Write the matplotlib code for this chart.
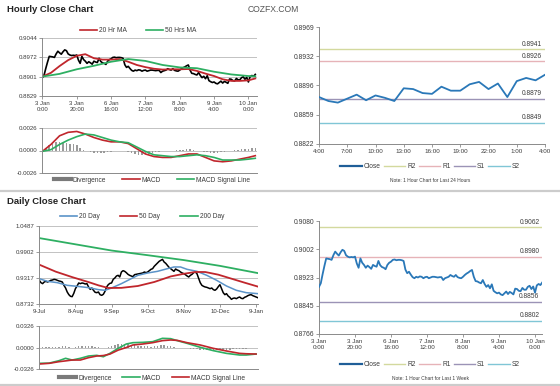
import numpy as np
import matplotlib.pyplot as plt
from matplotlib.lines import Line2D

plt.rcParams['font.family'] = ['Liberation Sans', 'DejaVu Sans']

W, H = 560, 386

# ---------------- hourly data: 3 Jan 0:00 .. 10 Jan 4:00 (one value per hour)
hour_labels = ["3 Jan\n0:00", "3 Jan\n20:00", "6 Jan\n16:00", "7 Jan\n12:00",
               "8 Jan\n8:00", "9 Jan\n4:00", "10 Jan\n0:00"]
close_3to9 = [
    0.8897, 0.8907, 0.8932, 0.8955, 0.8976, 0.8975, 0.8974, 0.8972, 0.8985, 0.8995,
    0.8989, 0.8984, 0.8993, 0.9000, 0.8997, 0.8985, 0.8981, 0.8979, 0.8980, 0.8979,
    0.8981, 0.8962, 0.8950, 0.8976, 0.8964, 0.8958, 0.8950, 0.8956, 0.8952, 0.8947,
    0.8958, 0.8955, 0.8953, 0.8969, 0.8957, 0.8952, 0.8950, 0.8946, 0.8958, 0.8964,
    0.8967, 0.8972, 0.8973, 0.8971, 0.8972, 0.8972, 0.8971, 0.8969, 0.8945, 0.8935,
    0.8939, 0.8931, 0.8924, 0.8921, 0.8925, 0.8923, 0.8926, 0.8925, 0.8921, 0.8924,
    0.8925, 0.8921, 0.8923, 0.8925, 0.8925, 0.8924, 0.8923, 0.8924, 0.8924, 0.8916,
    0.8921, 0.8923, 0.8925, 0.8930, 0.8927, 0.8925, 0.8930, 0.8924, 0.8922, 0.8921,
    0.8925, 0.8930, 0.8934, 0.8937, 0.8941, 0.8944, 0.8925, 0.8913, 0.8912, 0.8909,
    0.8907, 0.8916, 0.8905, 0.8897, 0.8902, 0.8893, 0.8904, 0.8886, 0.8882, 0.8879,
]
# last 24 hours: 9 Jan 4:00 .. 10 Jan 4:00
close_24h = [
    0.8881, 0.8876, 0.8874, 0.8879, 0.8884, 0.8877, 0.8883, 0.8880, 0.8876, 0.8892,
    0.8891, 0.8886, 0.8885, 0.8894, 0.8889, 0.8889, 0.8897, 0.8900, 0.8891, 0.8898,
    0.8881, 0.8901, 0.8905, 0.8902, 0.8909,
]
close_week = close_3to9 + close_24h
labels_24h = ["4:00", "7:00", "10:00", "13:00", "16:00", "19:00", "22:00", "1:00", "4:00"]

level_names = ["R2", "R1", "S1", "S2"]
levels_24h = [0.8941, 0.8926, 0.8879, 0.8849]
levels_week = [0.9062, 0.8980, 0.8856, 0.8802]

ma_h_x = [0, 5, 10, 15, 20, 25, 30, 35, 40, 45, 50, 55, 60, 65, 70, 75, 80, 85, 90,
          95, 100, 105, 110, 115, 120, 124]
ma20_h = [0.8901, 0.8915, 0.8940, 0.8962, 0.8978, 0.8984, 0.8969, 0.8964, 0.8964, 0.8966,
          0.8956, 0.8944, 0.8936, 0.8930, 0.8927, 0.8928, 0.8928, 0.8929, 0.8922, 0.8912,
          0.8903, 0.8891, 0.8885, 0.8885, 0.8887, 0.8894]
ma50_h_x = [0, 10, 20, 30, 40, 50, 60, 70, 80, 90, 100, 110, 120, 124]
ma50_h = [0.8901, 0.8911, 0.8928, 0.8941, 0.8956, 0.8966, 0.8959, 0.8944, 0.8935, 0.8932,
          0.8919, 0.8909, 0.8903, 0.8902]

macd_h = [-0.0001, 0.0007, 0.0017, 0.0021, 0.0022, 0.0019, 0.0015, 0.0012, 0.0010, 0.0010,
          0.0008, 0.0002, -0.0004, -0.0007, -0.0008, -0.0008, -0.0006, -0.0004, -0.0004,
          -0.0008, -0.0012, -0.0013, -0.0012, -0.0010, -0.0008, -0.0006]
signal_h = [-0.0001, 0.0001, 0.0007, 0.0012, 0.0016, 0.0019, 0.0018, 0.0015, 0.0012, 0.0010,
            0.0009, 0.0004, -0.0001, -0.0005, -0.0006, -0.0007, -0.0007, -0.0006, -0.0005,
            -0.0006, -0.0008, -0.0011, -0.0011, -0.0011, -0.0010, -0.0009]
div_h_x = list(range(0, 125, 2))
div_h = [0.0000, 0.0003, 0.0006, 0.0008, 0.0010, 0.0010, 0.0009, 0.0009, 0.0008, 0.0007,
         0.0006, 0.0003, 0.0001, -0.0001, -0.0002, -0.0003, -0.0003, -0.0003, -0.0003, -0.0002,
         -0.0002, -0.0001, 0.0000, -0.0001, -0.0001, -0.0002, -0.0003, -0.0004, -0.0005, -0.0005,
         -0.0004, -0.0004, -0.0003, -0.0002, -0.0002, -0.0001, -0.0001, 0.0000, 0.0000, 0.0001,
         0.0001, 0.0001, 0.0002, 0.0002, 0.0001, 0.0000, -0.0001, -0.0002, -0.0002, -0.0003,
         -0.0003, -0.0003, -0.0002, -0.0002, -0.0001, 0.0000, 0.0001, 0.0001, 0.0002, 0.0002,
         0.0002, 0.0003, 0.0003]

# ---------------- daily data: 9 Jul .. 9 Jan (trading days)
day_labels = ["9-Jul", "8-Aug", "9-Sep", "9-Oct", "8-Nov", "10-Dec", "9-Jan"]
close_d = [
    0.9265, 0.9212, 0.9190, 0.9227, 0.9242, 0.9227, 0.9242, 0.9265, 0.9272, 0.9287,
    0.9280, 0.9265, 0.9250, 0.9242, 0.9227, 0.9152, 0.9092, 0.9002, 0.8942, 0.8905,
    0.8897, 0.8972, 0.9077, 0.9137, 0.9205, 0.9190, 0.9205, 0.9197, 0.9182, 0.9190,
    0.9115, 0.9062, 0.9092, 0.9040, 0.8995, 0.8987, 0.9002, 0.8942, 0.8927, 0.8950,
    0.9017, 0.9115, 0.9167, 0.9197, 0.9205, 0.9287, 0.9317, 0.9362, 0.9377, 0.9340,
    0.9452, 0.9482, 0.9467, 0.9437, 0.9400, 0.9377, 0.9362, 0.9347, 0.9392, 0.9400,
    0.9407, 0.9415, 0.9422, 0.9430, 0.9452, 0.9437, 0.9452, 0.9482, 0.9512, 0.9527,
    0.9580, 0.9617, 0.9655, 0.9692, 0.9715, 0.9737, 0.9677, 0.9647, 0.9602, 0.9557,
    0.9527, 0.9497, 0.9467, 0.9520, 0.9497, 0.9482, 0.9452, 0.9430, 0.9415, 0.9392,
    0.9362, 0.9340, 0.9377, 0.9400, 0.9437, 0.9452, 0.9415, 0.9317, 0.9212, 0.9152,
    0.9130, 0.9115, 0.9107, 0.9092, 0.9077, 0.9092, 0.9055, 0.9040, 0.9070, 0.9122,
    0.9167, 0.9077, 0.8987, 0.8942, 0.8965, 0.8912, 0.8882, 0.8837, 0.8860, 0.8867,
    0.8852, 0.8875, 0.8890, 0.8860, 0.8852, 0.8882, 0.8897, 0.8920, 0.8935, 0.8942,
    0.8920, 0.8905, 0.8890, 0.8875,
]
ma20_d_x = [0, 5, 11, 17, 23, 30, 36, 40, 44, 50, 56, 60, 66, 72, 78, 82, 86, 90, 96,
            102, 108, 114, 120, 126, 133]
ma20_d = [0.9302, 0.9242, 0.9212, 0.9152, 0.9130, 0.9100, 0.9055, 0.9040, 0.9092, 0.9190,
          0.9302, 0.9377, 0.9430, 0.9467, 0.9527, 0.9565, 0.9565, 0.9512, 0.9467, 0.9377,
          0.9265, 0.9137, 0.9040, 0.8987, 0.8965]
ma50_d_x = [0, 10, 20, 30, 36, 42, 50, 60, 70, 80, 88, 95, 101, 109, 117, 125, 133]
ma50_d = [0.9617, 0.9460, 0.9337, 0.9225, 0.9152, 0.9092, 0.9095, 0.9137, 0.9227, 0.9352,
          0.9412, 0.9452, 0.9452, 0.9392, 0.9302, 0.9212, 0.9125]
ma200_d_x = [0, 22, 44, 66, 88, 110, 133]
ma200_d = [1.0215, 1.0075, 0.9935, 0.9830, 0.9720, 0.9590, 0.9428]

macd_d_x = [0, 6, 12, 16, 20, 25, 30, 35, 39, 43, 48, 53, 57, 63, 69, 75, 80, 84, 90,
            98, 106, 114, 122, 126, 132]
macd_d = [-0.0240, -0.0237, -0.0200, -0.0164, -0.0190, -0.0164, -0.0129, -0.0119, -0.0140,
          -0.0089, -0.0013, 0.0053, 0.0073, 0.0078, 0.0088, 0.0139, 0.0134, 0.0104, 0.0063,
          0.0003, -0.0048, -0.0089, -0.0114, -0.0114, -0.0099]
signal_d = [-0.0250, -0.0240, -0.0215, -0.0203, -0.0190, -0.0190, -0.0154, -0.0129, -0.0122,
            -0.0100, -0.0040, 0.0000, 0.0038, 0.0053, 0.0073, 0.0104, 0.0114, 0.0108, 0.0073,
            0.0038, -0.0013, -0.0053, -0.0089, -0.0095, -0.0099]
div_d_x = list(range(0, 133, 2))
div_d = [0.0010, 0.0008, 0.0005, 0.0003, 0.0008, 0.0012, 0.0015, 0.0020, 0.0025, 0.0012,
         0.0000, 0.0012, 0.0022, 0.0026, 0.0025, 0.0025, 0.0018, 0.0012, 0.0005, -0.0008,
         -0.0010, 0.0010, 0.0025, 0.0040, 0.0050, 0.0055, 0.0055, 0.0048, 0.0040, 0.0035,
         0.0030, 0.0027, 0.0025, 0.0020, 0.0015, 0.0018, 0.0028, 0.0035, 0.0033, 0.0025,
         0.0020, 0.0008, -0.0004, -0.0008, -0.0010, -0.0010, -0.0018, -0.0025, -0.0030, -0.0035,
         -0.0036, -0.0036, -0.0036, -0.0035, -0.0035, -0.0036, -0.0036, -0.0036, -0.0032, -0.0030,
         -0.0026, -0.0025, -0.0022, -0.0019, -0.0012, -0.0006, -0.0002]

# ---------------- styling
AXIS = '#8a8a8a'
TXT = '#3c3c3c'
GRID = '#b8b8b8'
RED = '#c0262c'
GREEN = '#2eaf62'
BLUE_MA = '#5b93c8'
GRAY = '#7a7a7a'
CLOSE = '#2a78b8'
LEVEL_COLORS = ['#d3d99e', '#e6b3b8', '#9b93b6', '#80c6d6']

fig = plt.figure(figsize=(W / 100, H / 100), dpi=100)
fig.patch.set_facecolor('white')


def px_axes(x0, y0, x1, y1):
    return fig.add_axes([x0 / W, 1 - y1 / H, (x1 - x0) / W, (y1 - y0) / H])


def excel_style(ax, grid=False, ysize=4.4, xsize=4.3):
    for s in ['top', 'right']:
        ax.spines[s].set_visible(False)
    for s in ['left', 'bottom']:
        ax.spines[s].set_color(AXIS)
        ax.spines[s].set_linewidth(0.7)
    ax.tick_params(colors=AXIS, labelcolor=TXT, length=2, width=0.6, pad=1.5)
    ax.tick_params(axis='y', labelsize=ysize)
    ax.tick_params(axis='x', labelsize=xsize)
    if grid:
        ax.yaxis.grid(True, color=GRID, lw=0.6)
        ax.set_axisbelow(True)


def set_yticks(ax, ticks, fmt="{:.4f}"):
    ax.set_ylim(min(ticks), max(ticks))
    ax.set_yticks(ticks)
    ax.set_yticklabels([fmt.format(t) for t in ticks])


def legend_at(ax, handles, labels, cx, cy, size=4.8, hl=2.6, cs=1.6):
    ax.legend(handles, labels, loc='center', bbox_to_anchor=(cx / W, 1 - cy / H),
              bbox_transform=fig.transFigure, ncol=len(handles), frameon=False,
              fontsize=size, handlelength=hl, handletextpad=0.3, columnspacing=cs,
              borderpad=0, labelcolor=TXT)


def line(color, lw=1.2):
    return Line2D([], [], color=color, lw=lw)


# titles and separators
fig.text(7 / W, 1 - 9 / H, "Hourly Close Chart", fontsize=6.8, fontweight='bold',
         color='#222222', va='center')
fig.text(248 / W, 1 - 10 / H, "COZFX.COM", fontsize=6.2, color='#555555', va='center')
fig.text(7 / W, 1 - 202 / H, "Daily Close Chart", fontsize=6.8, fontweight='bold',
         color='#222222', va='center')
for yy in (191, 385):
    fig.add_artist(Line2D([0, 1], [1 - yy / H] * 2, color='#cccccc', lw=1.6,
                          transform=fig.transFigure))

# ---- hourly price (top left)
ax1 = px_axes(42.4, 38, 257, 96)
excel_style(ax1, grid=True)
hx = np.arange(len(close_week))
ax1.plot(hx, close_week, color='black', lw=1.2)
ax1.plot(ma_h_x, ma20_h, color=RED, lw=1.3)
ax1.plot(ma50_h_x, ma50_h, color=GREEN, lw=1.3)
ax1.set_xlim(0, 125)
set_yticks(ax1, [0.8829, 0.8901, 0.8972, 0.9044])
ax1.set_xticks(range(0, 121, 20))
ax1.set_xticklabels(hour_labels)
legend_at(ax1, [line(RED), line(GREEN)], ["20 Hr MA", "50 Hrs MA"], 138, 31, cs=2.8)

# ---- hourly MACD
ax2 = px_axes(42.4, 128, 257, 173)
excel_style(ax2, grid=True)
ax2.bar(div_h_x, div_h, width=0.9, color='#9a9a9a', linewidth=0)
ax2.plot(ma_h_x, macd_h, color=RED, lw=1.2)
ax2.plot(ma_h_x, signal_h, color=GREEN, lw=1.2)
ax2.set_xlim(0, 125)
set_yticks(ax2, [-0.0026, 0.0, 0.0026])
ax2.set_xticks([])
legend_at(ax2, [line(GRAY, 3), line(RED), line(GREEN)],
          ["Divergence", "MACD", "MACD Signal Line"], 152, 180, cs=2.4)

# ---- daily price
ax3 = px_axes(39.3, 226, 257.7, 304)
excel_style(ax3, grid=True)
dx = np.arange(len(close_d))
ax3.plot(dx, close_d, color='black', lw=1.1)
ax3.plot(ma20_d_x, ma20_d, color=BLUE_MA, lw=1.1)
ax3.plot(ma50_d_x, ma50_d, color=RED, lw=1.3)
ax3.plot(ma200_d_x, ma200_d, color=GREEN, lw=1.3)
ax3.set_xlim(0, 133)
set_yticks(ax3, [0.8732, 0.9317, 0.9902, 1.0487])
ax3.set_xticks(range(0, 133, 22))
ax3.set_xticklabels(day_labels)
legend_at(ax3, [line(BLUE_MA), line(RED), line(GREEN)],
          ["20 Day", "50 Day", "200 Day"], 142, 217, cs=3.0)

# ---- daily MACD
ax4 = px_axes(39.3, 326, 257.7, 369)
excel_style(ax4, grid=True)
ax4.bar(div_d_x, div_d, width=0.9, color='#9a9a9a', linewidth=0)
ax4.plot(macd_d_x, macd_d, color=GREEN, lw=1.2)
ax4.plot(macd_d_x, signal_d, color=RED, lw=1.2)
ax4.set_xlim(0, 133)
set_yticks(ax4, [-0.0326, 0.0, 0.0326])
ax4.set_xticks([])
legend_at(ax4, [line(GRAY, 3), line(GREEN), line(RED)],
          ["Divergence", "MACD", "MACD Signal Line"], 152, 378, cs=1.6)


# ---- right charts
def pivot_chart(ax, xs, closes, levels, yticks, xticks, xlabels, note, leg_y, note_y):
    excel_style(ax, ysize=4.9, xsize=4.5)
    for val, col in zip(levels, LEVEL_COLORS):
        ax.axhline(val, color=col, lw=1.0, zorder=1)
        ax.annotate("{:.4f}".format(val), xy=(xs[-1], val), xytext=(-2, 1.2),
                    textcoords='offset points', ha='right', va='bottom',
                    fontsize=4.8, color=TXT)
    ax.plot(xs, closes, color=CLOSE, lw=1.3, zorder=3)
    ax.set_xlim(xs[0], xs[-1])
    set_yticks(ax, yticks)
    ax.set_xticks(xticks)
    ax.set_xticklabels(xlabels)
    handles = [line('#1f5e98', 1.6)] + [line(c, 1.0) for c in LEVEL_COLORS]
    legend_at(ax, handles, ["Close"] + level_names, 430, leg_y, size=4.8, hl=3.2, cs=0.5)
    fig.text(430 / W, 1 - note_y / H, note, fontsize=3.5, color=TXT, ha='center', va='center')


ax5 = px_axes(319, 27, 545, 144)
pivot_chart(ax5, np.arange(len(close_24h)), close_24h, levels_24h,
            [0.8822, 0.8859, 0.8896, 0.8932, 0.8969], range(0, 25, 3), labels_24h,
            "Note: 1 Hour Chart for Last 24 Hours", 167, 180)

ax6 = px_axes(319, 221, 542.2, 334)
pivot_chart(ax6, np.arange(len(close_week)), close_week, levels_week,
            [0.8766, 0.8845, 0.8923, 0.9002, 0.9080], range(0, 121, 20), hour_labels,
            "Note: 1 Hour Chart for Last 1 Week", 365, 378)

fig.savefig("out.png", dpi=100, facecolor='white')
